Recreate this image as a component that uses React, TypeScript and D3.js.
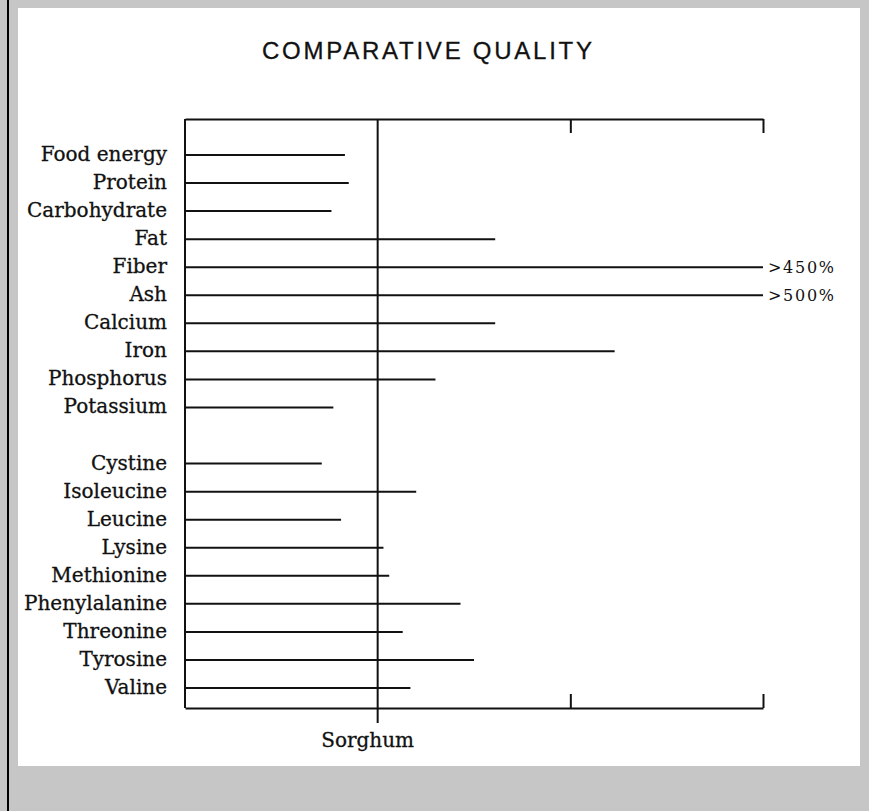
import React, { useEffect, useRef } from "react";
import { select, scaleLinear, scalePoint, axisTop, axisBottom } from "d3";

// percent of sorghum (sorghum = 100)
const nutrients = ["Food energy", "Protein", "Carbohydrate", "Fat", "Fiber", "Ash",
    "Calcium", "Iron", "Phosphorus", "Potassium"];
const nutrientValues = [83, 85, 76, 161, 450, 500, 161, 223, 130, 77];

const aminoAcids = ["Cystine", "Isoleucine", "Leucine", "Lysine", "Methionine",
    "Phenylalanine", "Threonine", "Tyrosine", "Valine"];
const aminoValues = [71, 120, 81, 103, 106, 143, 113, 150, 117];

// bars that run off the chart get a note
const overflowNotes = { Fiber: ">450%", Ash: ">500%" };

const tickValues = [200, 300];
const referenceLabel = "Sorghum";
const title = "COMPARATIVE QUALITY";

const W = 869, H = 811;
const serif = "'DejaVu Serif', serif";

function ComparativeChart() {
    const svgRef = useRef<SVGSVGElement>(null);

    useEffect(() => {
        const svg = select(svgRef.current);
        svg.selectAll("*").remove();

        const rows = [
            ...nutrients.map((name, i) => ({ name, value: nutrientValues[i] })),
            ...aminoAcids.map((name, i) => ({ name, value: aminoValues[i] })),
        ];
        // a blank slot between the two groups
        const domain = [...nutrients, "__gap", ...aminoAcids];

        const x = scaleLinear().domain([0, 300]).range([185, 763]).clamp(true);
        const y = scalePoint().domain(domain).range([155, 688]);
        const top = 119, bottom = 708;

        // page background and white panel
        svg.append("rect").attr("width", W).attr("height", H).attr("fill", "#c6c6c6");
        svg.append("rect").attr("x", 18).attr("y", 8).attr("width", 842).attr("height", 758)
            .attr("fill", "#fff");
        svg.append("line").attr("x1", 8).attr("x2", 8).attr("y1", 0).attr("y2", H)
            .attr("stroke", "#000").attr("stroke-width", 2);

        svg.append("text")
            .attr("x", 427).attr("y", 59)
            .attr("text-anchor", "middle")
            .attr("font-family", "'Liberation Sans', Arial, sans-serif")
            .attr("font-size", 24)
            .attr("textLength", 330)
            .attr("lengthAdjust", "spacing")
            .attr("fill", "#111")
            .attr("stroke", "#111").attr("stroke-width", 0.3)
            .text(title);

        // frame: top and bottom axes with inward ticks
        const topAxis = axisTop(x).tickValues(tickValues).tickSize(-14).tickSizeOuter(0).tickFormat(() => "");
        const bottomAxis = axisBottom(x).tickValues(tickValues).tickSize(-14).tickSizeOuter(0).tickFormat(() => "");
        svg.append("g").attr("transform", `translate(0,${top})`).call(topAxis);
        svg.append("g").attr("transform", `translate(0,${bottom})`).call(bottomAxis);
        svg.selectAll(".domain, .tick line").attr("stroke", "#111").attr("stroke-width", 2);

        svg.append("line")
            .attr("x1", x(0)).attr("x2", x(0)).attr("y1", top).attr("y2", bottom)
            .attr("stroke", "#111").attr("stroke-width", 2);

        // sorghum reference line
        svg.append("line")
            .attr("x1", x(100)).attr("x2", x(100)).attr("y1", top).attr("y2", 723)
            .attr("stroke", "#111").attr("stroke-width", 2);
        svg.append("text")
            .attr("x", x(100) - 10).attr("y", 747)
            .attr("text-anchor", "middle")
            .attr("font-family", serif).attr("font-size", 20).attr("fill", "#111")
            .attr("stroke", "#111").attr("stroke-width", 0.3)
            .text(referenceLabel);

        // bars
        svg.selectAll(".bar")
            .data(rows)
            .join("line")
            .attr("class", "bar")
            .attr("x1", x(0))
            .attr("x2", d => x(d.value))
            .attr("y1", d => y(d.name))
            .attr("y2", d => y(d.name))
            .attr("stroke", "#111")
            .attr("stroke-width", 2);

        svg.selectAll(".label")
            .data(rows)
            .join("text")
            .attr("class", "label")
            .attr("x", 167)
            .attr("y", d => y(d.name) + 6)
            .attr("text-anchor", "end")
            .attr("font-family", serif).attr("font-size", 20).attr("fill", "#111")
            .attr("stroke", "#111").attr("stroke-width", 0.3)
            .text(d => d.name);

        svg.selectAll(".note")
            .data(rows.filter(d => overflowNotes[d.name]))
            .join("text")
            .attr("class", "note")
            .attr("x", x(300) + 5)
            .attr("y", d => y(d.name) + 6)
            .attr("font-family", serif).attr("font-size", 16)
            .attr("textLength", 66).attr("lengthAdjust", "spacing")
            .attr("fill", "#111")
            .text(d => overflowNotes[d.name]);
    }, []);

    return (
        <svg ref={svgRef} width={W} height={H}
            style={{ position: "absolute", left: 0, top: 0, display: "block" }} />
    );
}

export default function App() {
    return <ComparativeChart />;
}
